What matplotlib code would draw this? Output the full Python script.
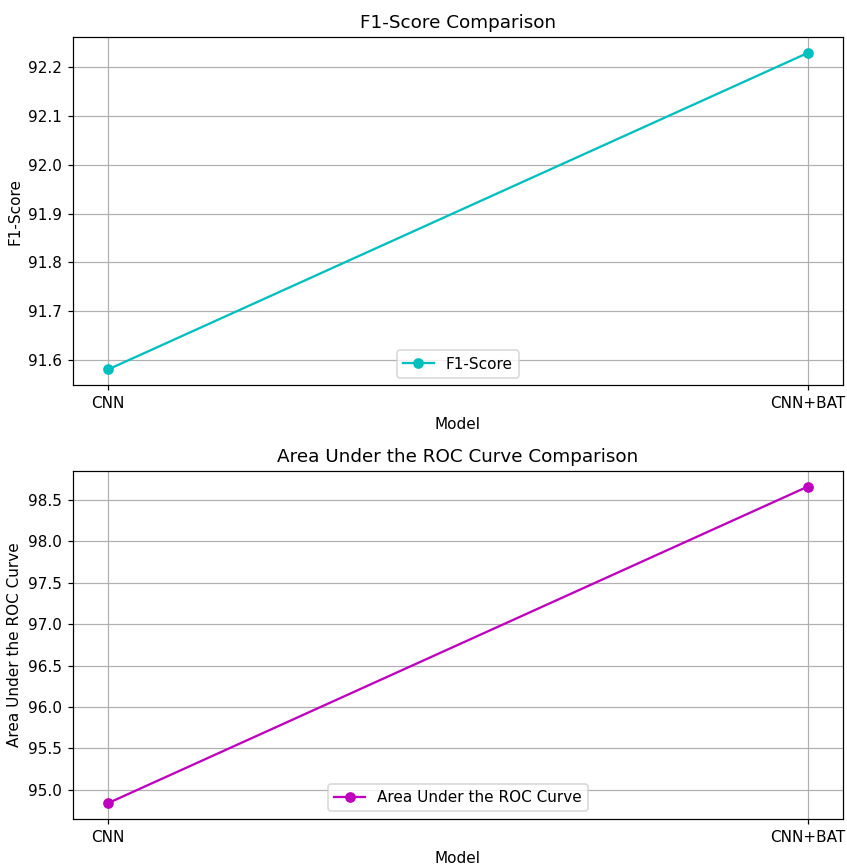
import matplotlib

matplotlib.use("Agg")
import matplotlib.pyplot as plt

models = ["CNN", "CNN+BAT"]
f1_scores = [91.58, 92.23]
auc_scores = [94.84, 98.66]

W, H, DPI = 847, 865, 110
fig, (ax1, ax2) = plt.subplots(2, 1, figsize=(W / DPI, H / DPI), dpi=DPI)

ax1.plot(models, f1_scores, marker="o", color="c", label="F1-Score")
ax1.set_title("F1-Score Comparison")
ax1.set_xlabel("Model")
ax1.set_ylabel("F1-Score")
ax1.grid(True)
ax1.legend(loc="lower center")

ax2.plot(models, auc_scores, marker="o", color="m", label="Area Under the ROC Curve")
ax2.set_title("Area Under the ROC Curve Comparison")
ax2.set_xlabel("Model")
ax2.set_ylabel("Area Under the ROC Curve")
ax2.grid(True)
ax2.legend(loc="lower center")

fig.subplots_adjust(left=73 / W, right=843 / W, top=1 - 37 / H, bottom=1 - 819 / H, hspace=0.245)
fig.savefig("out.png")
